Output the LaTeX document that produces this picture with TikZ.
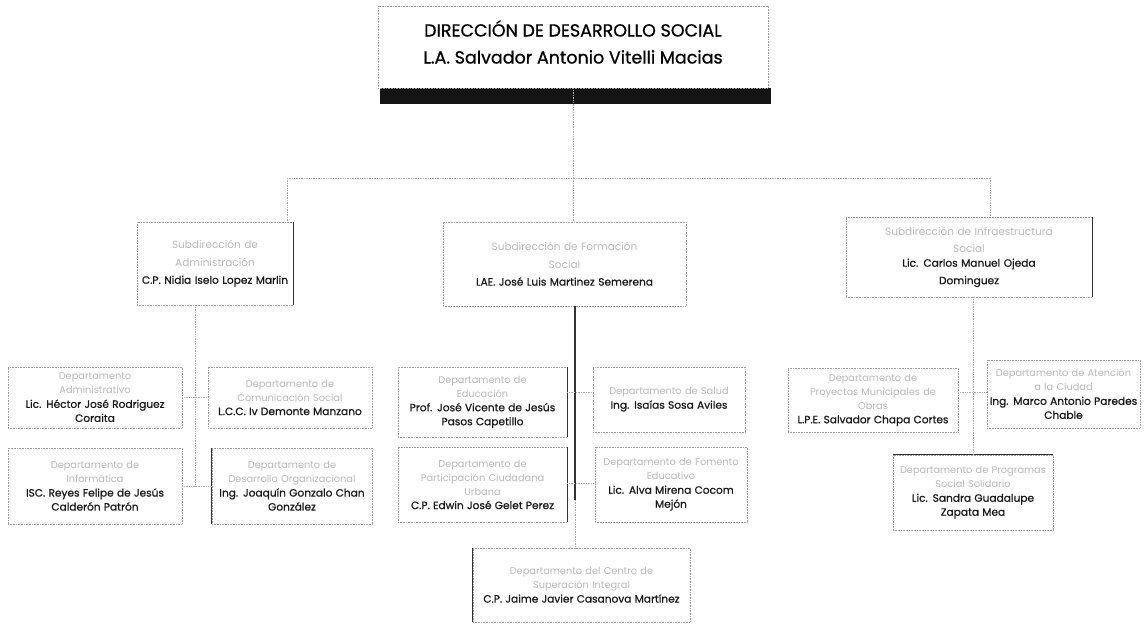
\documentclass[tikz,border=0pt]{standalone}
\usepackage{fontspec}
\setmainfont{Poppins}
\newfontfamily\nmfont[FakeBold=0.7]{Poppins}
\newcommand\nm[1]{{\nmfont\fontsize{10.6}{14}\selectfont\color{black!90}#1}}
\newcommand\obox[6]{\node[box, minimum width={#4-#2}, minimum height={#5-#3}, text width=\dimexpr #4pt-#2pt-3pt\relax] (#1) at ({(#2+#4)/2},{(#3+#5)/2}) {#6};}
\tikzset{
  box/.style={draw=gray!75, densely dotted, line width=0.6pt, fill=white, align=center, inner sep=1pt,
    font=\fontsize{9.8}{14}\selectfont, text=gray!55},
  conn/.style={draw=gray!65, densely dotted, line width=0.7pt},
  dark/.style={draw=black!80, line width=1.1pt},
}
\begin{document}
\begin{tikzpicture}[x=1pt,y=-1pt]
\useasboundingbox[fill=white] (0,0) rectangle (1146,628);
% top box
\fill[black!92] (380,88) rectangle (771,104);
\node[box, minimum width=390, minimum height=82, text=black, font=\fontsize{17.5}{27}\selectfont] (dir) at (573,47) {};
\node[text=black, font=\fontsize{17.5}{27}\selectfont, align=center] (dirtext) at (573,42)
  {\nmfont DIRECCIÓN DE DESARROLLO SOCIAL\\ \nmfont L.A. Salvador Antonio Vitelli Macias};
% junctions
\coordinate (hl) at (287,178);
\coordinate (hr) at (990,178);
\coordinate (hm) at (573,178);
% sub-directions
\begin{scope}[box/.append style={font=\fontsize{10.5}{17.5}\selectfont}]
\obox{sadm}{137}{222}{293}{305}{Subdirección de\\ Administración\\ \nm{C.P. Nidia Iselo Lopez Marlin}}
\obox{sfor}{443}{222}{686}{306}{Subdirección de Formación\\ Social\\ \nm{LAE. José Luis Martinez Semerena}}
\obox{sinf}{846}{217}{1092}{297}{Subdirección de Infraestructura\\ Social\\ \nm{Lic. Carlos Manuel Ojeda\\ Dominguez}}
\end{scope}
% left departments
\obox{dadm}{8}{367}{182}{428}{Departamento\\ Administrativo\\ \nm{Lic. Héctor José Rodriguez\\ Coraita}}
\obox{dcom}{208}{367}{372}{428}{Departamento de\\ Comunicación Social\\ \nm{L.C.C. Iv Demonte Manzano}}
\obox{dinf}{8}{448}{182}{524}{Departamento de\\ Informática\\ \nm{ISC. Reyes Felipe de Jesús\\ Calderón Patrón}}
\obox{ddes}{212}{448}{372}{524}{Departamento de\\ Desarrollo Organizacional\\ \nm{Ing. Joaquín Gonzalo Chan\\ González}}
% middle departments
\obox{dedu}{398}{367}{567}{437}{Departamento de\\ Educación\\ \nm{Prof. José Vicente de Jesús\\ Pasos Capetillo}}
\obox{dsal}{593}{367}{745}{432}{Departamento de Salud\\ \nm{Ing. Isaías Sosa Aviles}}
\obox{dpar}{398}{447}{567}{522}{Departamento de\\ Participación Ciudadana\\ Urbana\\ \nm{C.P. Edwin José Gelet Perez}}
\obox{dfom}{595}{447}{747}{522}{Departamento de Fomento\\ Educativo\\ \nm{Lic. Alva Mirena Cocom\\ Mejón}}
\obox{dcen}{473}{548}{690}{622}{Departamento del Centro de\\ Superación Integral\\ \nm{C.P. Jaime Javier Casanova Martínez}}
% right departments
\obox{dpro}{788}{368}{958}{432}{Departamento de\\ Proyectos Municipales de\\ Obras\\ \nm{L.P.E. Salvador Chapa Cortes}}
\obox{datn}{987}{360}{1140}{428}{Departamento de Atención\\ a la Ciudad\\ \nm{Ing. Marco Antonio Paredes\\ Chable}}
\obox{dsoc}{893}{455}{1053}{530}{Departamento de Programas\\ Social Solidario\\ \nm{Lic. Sandra Guadalupe\\ Zapata Mea}}
% darker solid edges
\draw[dark] (sadm.north east) -- (sadm.south east);
\draw[dark] (ddes.north west) -- (ddes.south west);
\draw[dark] (dedu.north east) -- (dedu.south east);
\draw[dark] (dpar.north east) -- (dpar.south east);
\draw[dark] (dcen.north west) -- (dcen.south west);
\draw[dark] (sinf.north east) -- (sinf.south east);
\draw[dark] (dsoc.north west) -- (dsoc.north east);
% top-level connectors
\draw[conn] (dir.south) -- (hm);
\draw[conn] (hl) -- (hr);
\draw[conn] (hl) -- (hl |- sadm.north);
\draw[conn] (hm) -- (hm |- sfor.north);
\draw[conn] (hr) -- (hr |- sinf.north);
% left group
\coordinate (lv) at (195,486);
\draw[conn] (sadm.south -| lv) -- (lv);
\draw[conn] (dadm.east) -- (dcom.west);
\draw[conn] (dinf.east) -- (ddes.west);
% middle group
\draw[dark, line width=1.4pt] (sfor.south -| 575,0) -- (575,500);
\draw[conn] (575,500) -- (dcen.north -| 575,0);
\draw[conn] (dedu.east |- 0,392) -- (dsal.west |- 0,392);
\draw[conn] (dpar.east |- 0,483) -- (dfom.west |- 0,483);
% right group
\draw[conn] (sinf.south -| dsoc.north) -- (dsoc.north);
\draw[conn] (dpro.east |- 0,392) -- (datn.west |- 0,392);
\end{tikzpicture}
\end{document}
